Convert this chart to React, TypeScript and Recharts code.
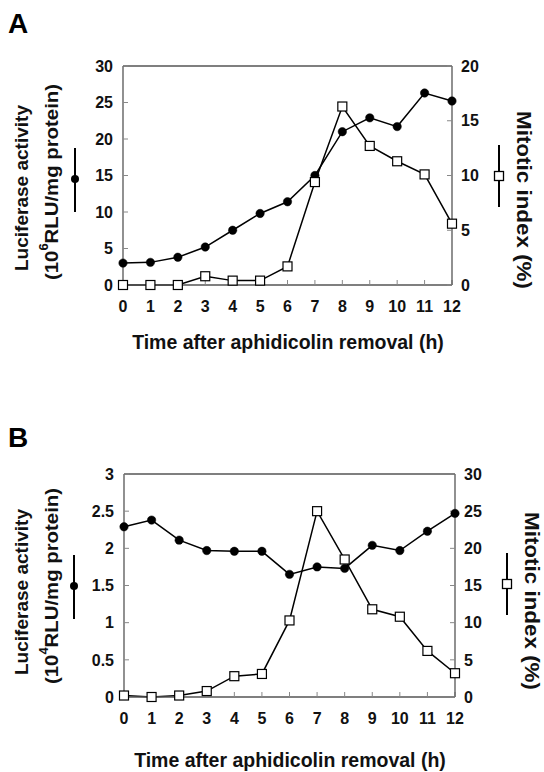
import React from "react";
import { LineChart, Line, XAxis, YAxis, ReferenceLine } from "recharts";

const hours = [0, 1, 2, 3, 4, 5, 6, 7, 8, 9, 10, 11, 12];
const lucA = [3.0, 3.1, 3.8, 5.2, 7.5, 9.8, 11.4, 15.0, 21.0, 22.9, 21.7, 26.3, 25.2];
const mitA = [0, 0, 0, 0.8, 0.4, 0.4, 1.7, 9.4, 16.3, 12.7, 11.3, 10.1, 5.6];
const lucB = [2.29, 2.38, 2.11, 1.97, 1.96, 1.96, 1.65, 1.75, 1.73, 2.04, 1.97, 2.23, 2.47];
const mitB = [0.2, 0, 0.2, 0.8, 2.8, 3.1, 10.3, 25.0, 18.5, 11.8, 10.8, 6.2, 3.2];
const lucTicksA = [0, 5, 10, 15, 20, 25, 30];
const mitTicksA = [0, 5, 10, 15, 20];
const lucTicksB = [0, 0.5, 1, 1.5, 2, 2.5, 3];
const mitTicksB = [0, 5, 10, 15, 20, 25, 30];

const FONT = "'Liberation Sans', Arial, Helvetica, sans-serif";
const AXIS = "#555";
const tickStyle = { fill: "#111", fontSize: 16, fontWeight: 700, fontFamily: FONT };

const squareDot = (p: any) => (
  <rect
    key={`sq-${p.index}`}
    x={p.cx - 4.5}
    y={p.cy - 4.5}
    width={9}
    height={9}
    fill="#fff"
    stroke="#000"
    strokeWidth={1.2}
  />
);

type PanelProps = {
  top: number;
  height: number;
  marginTop: number;
  leftW: number;
  rightW: number;
  xH: number;
  luc: number[];
  mit: number[];
  lucTicks: number[];
  mitTicks: number[];
};

const Panel = ({ top, height, marginTop, leftW, rightW, xH, luc, mit, lucTicks, mitTicks }: PanelProps) => {
  const data = hours.map((h, i) => ({ h, luc: luc[i], mit: mit[i] }));
  const lucMax = lucTicks[lucTicks.length - 1];
  return (
    <div style={{ position: "absolute", left: 0, top }}>
      <LineChart width={544} height={height} data={data} margin={{ top: marginTop, right: 0, bottom: 0, left: 0 }}>
        <XAxis
          dataKey="h"
          interval={0}
          height={xH}
          tick={tickStyle}
          tickSize={-5}
          tickMargin={21}
          axisLine={{ stroke: AXIS, strokeWidth: 1.3 }}
          tickLine={{ stroke: "#888" }}
        />
        <YAxis
          yAxisId="l"
          width={leftW}
          domain={[0, lucMax]}
          ticks={lucTicks}
          tick={tickStyle}
          tickSize={-5}
          tickMargin={15}
          axisLine={{ stroke: AXIS, strokeWidth: 1.3 }}
          tickLine={{ stroke: "#888" }}
        />
        <YAxis
          yAxisId="r"
          orientation="right"
          width={rightW}
          domain={[0, mitTicks[mitTicks.length - 1]]}
          ticks={mitTicks}
          tick={{ ...tickStyle, textAnchor: "start" }}
          tickSize={-5}
          tickMargin={14}
          axisLine={{ stroke: AXIS, strokeWidth: 1.3 }}
          tickLine={{ stroke: "#888" }}
        />
        <ReferenceLine yAxisId="l" y={lucMax} stroke={AXIS} strokeWidth={1.3} />
        <Line
          yAxisId="l"
          dataKey="luc"
          stroke="#000"
          strokeWidth={1.5}
          dot={{ r: 4.2, fill: "#000", stroke: "#000", strokeWidth: 0.5 }}
          isAnimationActive={false}
        />
        <Line
          yAxisId="r"
          dataKey="mit"
          stroke="#000"
          strokeWidth={1.5}
          dot={squareDot}
          isAnimationActive={false}
        />
      </LineChart>
    </div>
  );
};

const YTitles = ({ lx, cy, exp, rx, rcy, mlx, mly, mrx, mry }: any) => (
  <g fontFamily={FONT} fontWeight={700} fill="#111">
    <text transform={`translate(${lx},${cy}) rotate(-90)`} textAnchor="middle" dominantBaseline="central"
      fontSize={19} textLength={166} lengthAdjust="spacingAndGlyphs">
      Luciferase activity
    </text>
    <text transform={`translate(${lx + 30},${cy - 6}) rotate(-90)`} textAnchor="middle" dominantBaseline="central"
      fontSize={19} textLength={196} lengthAdjust="spacingAndGlyphs">
      (10<tspan dy={-7} fontSize={12}>{exp}</tspan>
      <tspan dy={7}>RLU/mg protein)</tspan>
    </text>
    <line x1={mlx} x2={mlx} y1={mly - 31} y2={mly + 33} stroke="#000" strokeWidth={2} />
    <circle cx={mlx} cy={mly} r={4} fill="#000" />
    <text transform={`translate(${rx},${rcy}) rotate(90)`} textAnchor="middle" dominantBaseline="central"
      fontSize={20} textLength={178} lengthAdjust="spacingAndGlyphs">
      Mitotic index (%)
    </text>
    <line x1={mrx} x2={mrx} y1={mry - 31} y2={mry + 31} stroke="#000" strokeWidth={2} />
    <rect x={mrx - 4.5} y={mry - 4.5} width={9} height={9} fill="#fff" stroke="#000" strokeWidth={1.3} />
  </g>
);

export default function App() {
  return (
    <div style={{ position: "absolute", left: 0, top: 0, width: 544, height: 772, background: "#fff" }}>
      <Panel top={0} height={380} marginTop={66} leftW={123} rightW={92} xH={95}
        luc={lucA} mit={mitA} lucTicks={lucTicksA} mitTicks={mitTicksA} />
      <Panel top={390} height={382} marginTop={84} leftW={124} rightW={89} xH={75}
        luc={lucB} mit={mitB} lucTicks={lucTicksB} mitTicks={mitTicksB} />
      <svg width={544} height={772} style={{ position: "absolute", left: 0, top: 0, pointerEvents: "none" }}>
        <g fontFamily={FONT} fontWeight={700} fill="#000">
          <text x={8} y={33} fontSize={28}>A</text>
          <text x={8} y={447} fontSize={28}>B</text>
          <text x={288} y={342} textAnchor="middle" dominantBaseline="central" fontSize={19.5} fill="#111">
            Time after aphidicolin removal (h)
          </text>
          <text x={290} y={760} textAnchor="middle" dominantBaseline="central" fontSize={19.5} fill="#111">
            Time after aphidicolin removal (h)
          </text>
        </g>
        <YTitles lx={21} cy={188} exp="6" rx={524} rcy={200} mlx={75} mly={179} mrx={499} mry={176} />
        <YTitles lx={21} cy={592} exp="4" rx={532} rcy={601} mlx={74} mly={586} mrx={507} mry={584} />
      </svg>
    </div>
  );
}
